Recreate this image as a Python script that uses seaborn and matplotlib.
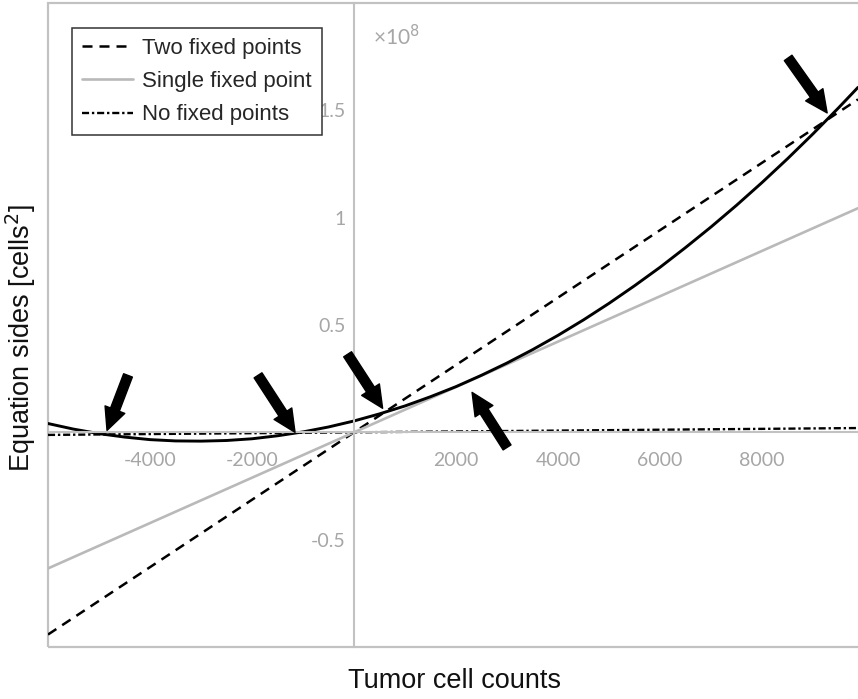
import matplotlib
matplotlib.use("Agg")
import matplotlib.pyplot as plt
from matplotlib.patches import Rectangle
import seaborn as sns

# ---- data (y in units of 1e8 cells^2) ----
curve_x = [-6000, -5500, -5000, -4500, -4000, -3500, -3000, -2500, -2000, -1500,
           -1000, -500, 0, 500, 1000, 1500, 2000, 2500, 3000, 3500, 4000, 4500,
           5000, 5500, 6000, 6500, 7000, 7500, 8000, 8500, 9000, 9500, 9880]
curve_y = [0.041, 0.015, -0.006, -0.022, -0.034, -0.040, -0.041, -0.038, -0.030,
           -0.016, 0.002, 0.025, 0.053, 0.086, 0.123, 0.166, 0.213, 0.266, 0.323,
           0.385, 0.452, 0.524, 0.601, 0.683, 0.769, 0.861, 0.957, 1.058, 1.164,
           1.275, 1.391, 1.512, 1.607]
line_x = [-6000, 9880]
two_fixed_y = [-0.942, 1.551]
single_fixed_y = [-0.634, 1.044]
no_fixed_y = [-0.012, 0.020]
legend_labels = ["Two fixed points", "Single fixed point", "No fixed points"]
x_ticks = [-4000, -2000, 2000, 4000, 6000, 8000]
x_tick_labels = ["-4000", "-2000", "2000", "4000", "6000", "8000"]
y_ticks = [-0.5, 0.5, 1.0, 1.5]
y_tick_labels = ["-0.5", "0.5", "1", "1.5"]
arrow_tip_x = [-4843, -1157, 560, 2314, 9275]
arrow_tip_y = [0.009, 0.0, 0.112, 0.186, 1.488]
arrow_tail_dx = [21, -37, -35, 35, -39]
arrow_tail_dy = [55, 57, 54, -55, 55]
x_label = "Tumor cell counts"
y_label = "Equation sides [cells$^2$]"

sns.set_theme(style="white")
plt.rcParams["font.family"] = ["Liberation Sans", "DejaVu Sans"]

W, H = 858, 699
fig = plt.figure(figsize=(W / 100, H / 100), dpi=100)
ax = fig.add_axes([48 / W, 52 / H, 810 / W, 644 / H])

axis_gray = "#c2c2c2"

sns.lineplot(x=line_x, y=two_fixed_y, ax=ax, color="black", lw=1.8,
             linestyle=(0, (4, 2.8)))
h_two = ax.lines[-1]
sns.lineplot(x=line_x, y=single_fixed_y, ax=ax, color="#b9b9b9", lw=1.9)
h_single = ax.lines[-1]
sns.lineplot(x=line_x, y=no_fixed_y, ax=ax, color="black", lw=1.7,
             linestyle=(0, (3, 1.2, 1, 1.2)))
h_none = ax.lines[-1]
sns.lineplot(x=curve_x, y=curve_y, ax=ax, color="black", lw=2.1)

ax.set_xlim(-6000, 9880)
ax.set_ylim(-1.0, 2.0)

# axes through the origin
for s in ["top", "right"]:
    ax.spines[s].set_visible(False)
ax.spines["left"].set_position(("data", 0))
ax.spines["bottom"].set_position(("data", 0))
for s in ["left", "bottom"]:
    ax.spines[s].set_color(axis_gray)
    ax.spines[s].set_linewidth(1.5)
ax.add_patch(Rectangle((0, 0), 1.2, 1, transform=ax.transAxes, fill=False,
                       edgecolor=axis_gray, lw=1.6, clip_on=False, zorder=0.5))

ax.set_xticks(x_ticks)
ax.set_xticklabels(x_tick_labels)
ax.set_yticks(y_ticks)
ax.set_yticklabels(y_tick_labels)
ax.tick_params(axis="both", direction="in", color=axis_gray, labelcolor="#a6a6a6",
               labelsize=14, length=6, width=1.2)
ax.tick_params(axis="x", pad=14)
ax.tick_params(axis="y", pad=6)
for lbl in ax.get_xticklabels() + ax.get_yticklabels():
    lbl.set_fontfamily(["Lato", "DejaVu Sans"])
ax.set_xlabel("")
ax.set_ylabel("")

ax.text(0.401, 0.968, "\u00d710$^{8}$", transform=ax.transAxes, ha="left", va="top",
        color="#a6a6a6", fontsize=15, family=["Lato", "DejaVu Sans"])

# arrows marking fixed points
for tx, ty, dx, dy in zip(arrow_tip_x, arrow_tip_y, arrow_tail_dx, arrow_tail_dy):
    ax.annotate("", xy=(tx, ty), xytext=(dx, dy), textcoords="offset pixels",
                arrowprops=dict(arrowstyle="simple,head_length=1.0,head_width=0.95,tail_width=0.42",
                                color="black", mutation_scale=16, shrinkA=0, shrinkB=0),
                zorder=6)

leg = ax.legend([h_two, h_single, h_none], legend_labels, loc="upper left",
                bbox_to_anchor=(24 / 810, 1 - 25 / 644), borderaxespad=0,
                frameon=True, fancybox=False, edgecolor="#333333", framealpha=1,
                fontsize=16, handlelength=2.3, handletextpad=0.4, borderpad=0.45,
                labelspacing=0.55)
leg.get_frame().set_linewidth(1.1)
leg.set_zorder(10)

fig.text(455 / W, 1 - 681 / H, x_label, ha="center", va="center", fontsize=19.5,
         color="#111111")
fig.text(21 / W, 1 - 338 / H, y_label, ha="center", va="center", rotation=90,
         fontsize=19.5, color="#111111")

fig.savefig("out.png", dpi=100)
